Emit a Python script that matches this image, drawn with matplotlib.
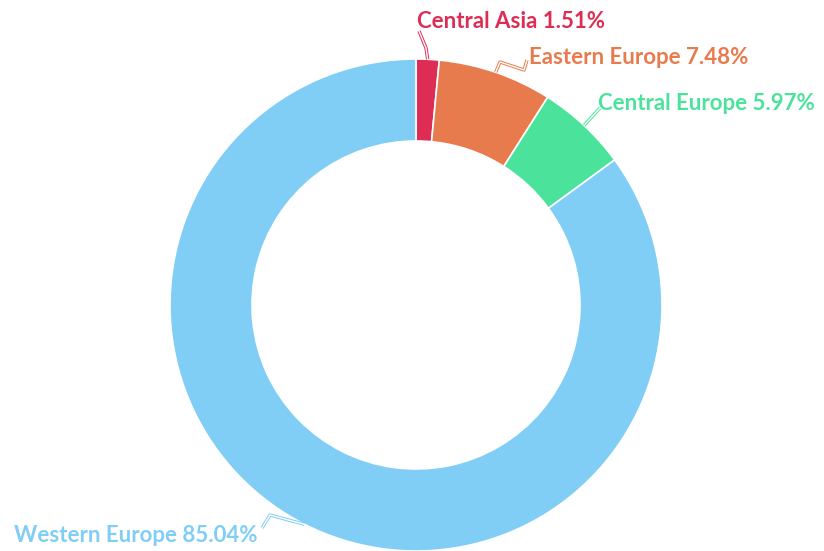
import matplotlib
matplotlib.use('Agg')
import matplotlib.pyplot as plt
import numpy as np

# Regional shares (percent)
regions = ['Central Asia', 'Eastern Europe', 'Central Europe', 'Western Europe']
shares = [1.51, 7.48, 5.97, 85.04]
colors = ['#DE2D54', '#E87B4E', '#4BE39B', '#80CDF5']

W, H = 824, 551
fig = plt.figure(figsize=(W / 100, H / 100), dpi=100)
ax = fig.add_axes([0, 0, 1, 1])

cx, cy = 416, H - 305
r_out, ring = 246, 82

ax.pie(shares, colors=colors, center=(cx, cy), radius=r_out, startangle=90,
       counterclock=False, frame=True,
       wedgeprops=dict(width=ring, edgecolor='white', linewidth=1.2))
ax.set_xlim(0, W)
ax.set_ylim(0, H)
ax.set_aspect('equal')
ax.axis('off')

# leader line bends and text anchors, per slice (pixel coordinates, y down)
leaders = [
    [(426, 48), (419, 31)],
    [(500, 62), (524, 70), (527, 60)],
    [(600, 108)],
    [(270, 515), (262, 528)],
]
text_pos = [(417, 21, 'left'), (529, 58, 'left'), (598, 104, 'left'), (258, 535, 'right')]

cum = np.cumsum([0] + shares[:-1])
for i, (name, val) in enumerate(zip(regions, shares)):
    mid = np.deg2rad((cum[i] + val / 2) / 100 * 360)
    x0 = cx + r_out * np.sin(mid)
    y0 = cy + r_out * np.cos(mid)
    xs = [x0] + [p[0] for p in leaders[i]]
    ys = [y0] + [H - p[1] for p in leaders[i]]
    ax.plot(xs, ys, color=colors[i], lw=2.4, solid_capstyle='butt', zorder=3)
    ax.plot(xs, ys, color='white', lw=1.0, zorder=4)
    tx, ty, ha = text_pos[i]
    ax.text(tx, H - ty, f'{name} {val:.2f}%', color=colors[i], ha=ha, va='center',
            fontsize=16, fontweight='bold', family='Lato')

fig.savefig('out.png', dpi=100, facecolor='white')
